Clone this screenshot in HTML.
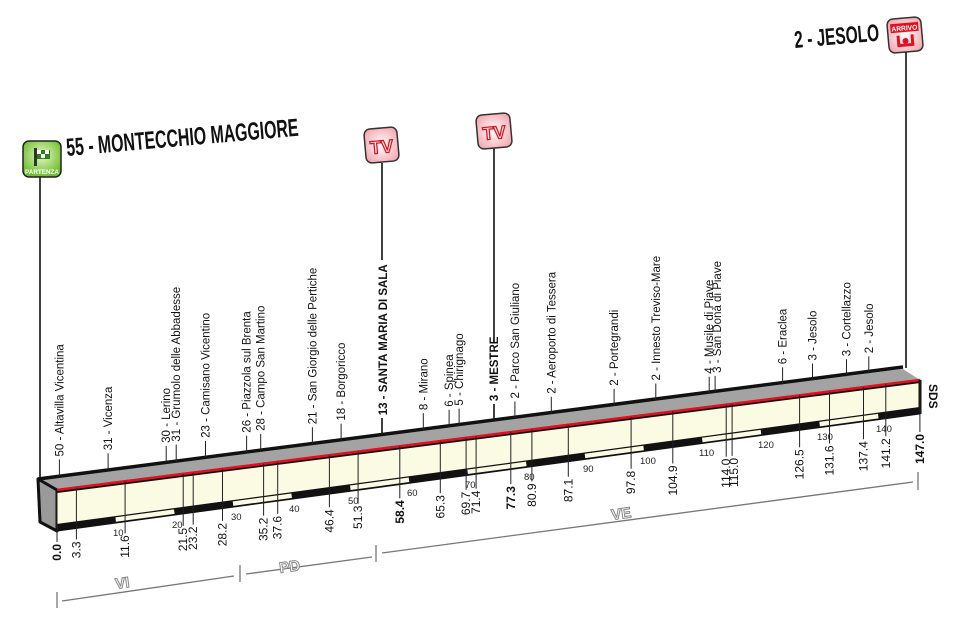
<!DOCTYPE html>
<html><head><meta charset="utf-8"><style>
html,body{margin:0;padding:0;background:#fff;}
svg{display:block;}
.t{font-family:"Liberation Sans Narrow","Liberation Sans",sans-serif;font-size:11.5px;fill:#111;}
.n{font-family:"Liberation Sans Narrow","Liberation Sans",sans-serif;font-size:12px;fill:#111;}
.k{font-family:"Liberation Sans Narrow","Liberation Sans",sans-serif;font-size:9.5px;fill:#222;}
.b{font-weight:bold;}
.reg{font-family:"Liberation Sans",sans-serif;font-size:15px;font-weight:bold;fill:#fff;stroke:#888;stroke-width:1;}
</style></head><body>
<svg width="960" height="626" viewBox="0 0 960 626" xmlns="http://www.w3.org/2000/svg">
<defs>
<radialGradient id="pk" cx="50%" cy="50%" r="60%"><stop offset="0" stop-color="#fff"/><stop offset="1" stop-color="#f3a9b0"/></radialGradient>
<radialGradient id="gr" cx="50%" cy="40%" r="60%"><stop offset="0" stop-color="#e8f7c8"/><stop offset="1" stop-color="#6bbf2a"/></radialGradient>
</defs>

<g stroke="#111" stroke-width="1.6">
<line x1="40" y1="177" x2="40" y2="479"/>
<line x1="382" y1="163" x2="382" y2="260"/>
<line x1="382" y1="418" x2="382" y2="435"/>
<line x1="494" y1="148" x2="494" y2="343"/>
<line x1="494" y1="404" x2="494" y2="421"/>
<line x1="906" y1="52" x2="906" y2="368"/>
</g>

<polygon points="40,479 903,369 920,380 57,490" fill="#a3a3a3"/>
<polyline points="38,479 903,367" fill="none" stroke="#111" stroke-width="3.5"/>
<polygon points="38,479 57,490 57,531 40,522" fill="#9a9a9a" stroke="#111" stroke-width="3" stroke-linejoin="round"/>
<polygon points="57,490 920,380 920,414 57,531" fill="#fbfbe4" stroke="#111" stroke-width="1"/>
<line x1="57" y1="527.5" x2="920" y2="410.5" stroke="#111" stroke-width="7"/>
<line x1="57" y1="527.5" x2="920" y2="410.5" stroke="#fbfbe4" stroke-width="4.5" stroke-dasharray="59.2 59.2" stroke-dashoffset="59.2"/>
<line x1="57" y1="491" x2="920" y2="381" stroke="#111" stroke-width="4"/>
<line x1="57" y1="490" x2="920" y2="380" stroke="#e0101e" stroke-width="2.6"/>
<line x1="920" y1="380" x2="920" y2="414" stroke="#111" stroke-width="3"/>

<g stroke="#222" stroke-width="1">
<line x1="57" y1="490" x2="57" y2="542"/>
<line x1="76.4" y1="487.5" x2="76.4" y2="539.5"/>
<line x1="125.1" y1="481.3" x2="125.1" y2="533.3"/>
<line x1="183.2" y1="473.9" x2="183.2" y2="525.9"/>
<line x1="193.2" y1="472.6" x2="193.2" y2="524.6"/>
<line x1="222.5" y1="468.9" x2="222.5" y2="520.9"/>
<line x1="263.6" y1="463.7" x2="263.6" y2="515.7"/>
<line x1="277.7" y1="461.9" x2="277.7" y2="513.9"/>
<line x1="329.4" y1="455.3" x2="329.4" y2="507.3"/>
<line x1="358.1" y1="451.6" x2="358.1" y2="503.6"/>
<line x1="399.8" y1="446.3" x2="399.8" y2="498.3"/>
<line x1="440.3" y1="441.1" x2="440.3" y2="493.1"/>
<line x1="466.1" y1="437.8" x2="466.1" y2="489.8"/>
<line x1="476.1" y1="436.6" x2="476.1" y2="488.6"/>
<line x1="510.8" y1="432.1" x2="510.8" y2="484.1"/>
<line x1="531.9" y1="429.5" x2="531.9" y2="481.5"/>
<line x1="568.3" y1="424.8" x2="568.3" y2="476.8"/>
<line x1="631.1" y1="416.8" x2="631.1" y2="468.8"/>
<line x1="672.8" y1="411.5" x2="672.8" y2="463.5"/>
<line x1="726.2" y1="404.7" x2="726.2" y2="456.7"/>
<line x1="732.1" y1="403.9" x2="732.1" y2="455.9"/>
<line x1="799.6" y1="395.3" x2="799.6" y2="447.3"/>
<line x1="829.5" y1="391.5" x2="829.5" y2="443.5"/>
<line x1="863.5" y1="387.2" x2="863.5" y2="439.2"/>
<line x1="885.8" y1="384.3" x2="885.8" y2="436.3"/>
<line x1="919.9" y1="380" x2="919.9" y2="432"/>
</g>

<g class="n" text-anchor="end">
<text class="b" transform="translate(61,544) rotate(-90)">0.0</text>
<text transform="translate(80.4,541.5) rotate(-90)">3.3</text>
<text transform="translate(129.1,535.3) rotate(-90)">11.6</text>
<text transform="translate(187.2,527.9) rotate(-90)">21.5</text>
<text transform="translate(197.2,526.6) rotate(-90)">23.2</text>
<text transform="translate(226.5,522.9) rotate(-90)">28.2</text>
<text transform="translate(267.6,517.7) rotate(-90)">35.2</text>
<text transform="translate(281.7,515.9) rotate(-90)">37.6</text>
<text transform="translate(333.4,509.3) rotate(-90)">46.4</text>
<text transform="translate(362.1,505.6) rotate(-90)">51.3</text>
<text class="b" transform="translate(403.8,500.3) rotate(-90)">58.4</text>
<text transform="translate(444.3,495.1) rotate(-90)">65.3</text>
<text transform="translate(470.1,491.8) rotate(-90)">69.7</text>
<text transform="translate(480.1,490.6) rotate(-90)">71.4</text>
<text class="b" transform="translate(514.8,486.1) rotate(-90)">77.3</text>
<text transform="translate(535.9,483.5) rotate(-90)">80.9</text>
<text transform="translate(572.3,478.8) rotate(-90)">87.1</text>
<text transform="translate(635.1,470.8) rotate(-90)">97.8</text>
<text transform="translate(676.8,465.5) rotate(-90)">104.9</text>
<text transform="translate(730.2,458.7) rotate(-90)">114.0</text>
<text transform="translate(738.1,457.9) rotate(-90)">115.0</text>
<text transform="translate(803.6,449.3) rotate(-90)">126.5</text>
<text transform="translate(833.5,445.5) rotate(-90)">131.6</text>
<text transform="translate(867.5,441.2) rotate(-90)">137.4</text>
<text transform="translate(889.8,438.3) rotate(-90)">141.2</text>
<text class="b" transform="translate(924,434) rotate(-90)">147.0</text>
</g>

<g class="k">
<text x="113" y="536">10</text>
<text x="172" y="528">20</text>
<text x="231" y="520">30</text>
<text x="289" y="512">40</text>
<text x="348" y="504">50</text>
<text x="407" y="496">60</text>
<text x="465" y="488">70</text>
<text x="524" y="480">80</text>
<text x="583" y="472">90</text>
<text x="640" y="464">100</text>
<text x="699" y="456">110</text>
<text x="758" y="448">120</text>
<text x="817" y="440">130</text>
<text x="876" y="432">140</text>
</g>

<g stroke="#222" stroke-width="1">
<line x1="59.4" y1="476.5" x2="59.4" y2="459.5"/>
<line x1="108.1" y1="470.3" x2="108.1" y2="453.3"/>
<line x1="166.2" y1="462.9" x2="166.2" y2="445.9"/>
<line x1="176.2" y1="461.6" x2="176.2" y2="444.6"/>
<line x1="205.5" y1="457.9" x2="205.5" y2="440.9"/>
<line x1="246.6" y1="452.7" x2="246.6" y2="435.7"/>
<line x1="260.7" y1="450.9" x2="260.7" y2="433.9"/>
<line x1="312.4" y1="444.3" x2="312.4" y2="427.3"/>
<line x1="341.1" y1="440.6" x2="341.1" y2="423.6"/>
<line x1="423.3" y1="430.1" x2="423.3" y2="413.1"/>
<line x1="449.1" y1="426.8" x2="449.1" y2="409.8"/>
<line x1="459.1" y1="425.6" x2="459.1" y2="408.6"/>
<line x1="514.9" y1="418.5" x2="514.9" y2="401.5"/>
<line x1="551.3" y1="413.8" x2="551.3" y2="396.8"/>
<line x1="614.1" y1="405.8" x2="614.1" y2="388.8"/>
<line x1="655.8" y1="400.5" x2="655.8" y2="383.5"/>
<line x1="709.2" y1="393.7" x2="709.2" y2="376.7"/>
<line x1="715.1" y1="392.9" x2="715.1" y2="375.9"/>
<line x1="782.6" y1="384.3" x2="782.6" y2="367.3"/>
<line x1="812.5" y1="380.5" x2="812.5" y2="363.5"/>
<line x1="846.5" y1="376.2" x2="846.5" y2="359.2"/>
<line x1="868.8" y1="373.3" x2="868.8" y2="356.3"/>
</g>

<g class="t">
<text transform="translate(63.4,456.5) rotate(-90)">50 - Altavilla Vicentina</text>
<text transform="translate(112.1,450.3) rotate(-90)">31 - Vicenza</text>
<text transform="translate(170.2,442.9) rotate(-90)">30 - Lerino</text>
<text transform="translate(180.2,441.6) rotate(-90)">31 - Grumolo delle Abbadesse</text>
<text transform="translate(209.5,437.9) rotate(-90)">23 - Camisano Vicentino</text>
<text transform="translate(250.6,432.7) rotate(-90)">26 - Piazzola sul Brenta</text>
<text transform="translate(264.7,430.9) rotate(-90)">28 - Campo San Martino</text>
<text transform="translate(316.4,424.3) rotate(-90)">21 - San Giorgio delle Pertiche</text>
<text transform="translate(345.1,420.6) rotate(-90)">18 - Borgoricco</text>
<text class="b" transform="translate(386.8,415.3) rotate(-90)">13 - SANTA MARIA DI SALA</text>
<text transform="translate(427.3,410.1) rotate(-90)">8 - Mirano</text>
<text transform="translate(453.1,406.8) rotate(-90)">6 - Spinea</text>
<text transform="translate(463.1,405.6) rotate(-90)">5 - Chirignago</text>
<text class="b" transform="translate(497.8,401.1) rotate(-90)">3 - MESTRE</text>
<text transform="translate(518.9,398.5) rotate(-90)">2 - Parco San Giuliano</text>
<text transform="translate(555.3,393.8) rotate(-90)">2 - Aeroporto di Tessera</text>
<text transform="translate(618.1,385.8) rotate(-90)">2 - Portegrandi</text>
<text transform="translate(659.8,380.5) rotate(-90)">2 - Innesto Treviso-Mare</text>
<text transform="translate(713.2,373.7) rotate(-90)">4 - Musile di Piave</text>
<text transform="translate(721.1,372.9) rotate(-90)">3 - San Donà di Piave</text>
<text transform="translate(786.6,364.3) rotate(-90)">6 - Eraclea</text>
<text transform="translate(816.5,360.5) rotate(-90)">3 - Jesolo</text>
<text transform="translate(850.5,356.2) rotate(-90)">3 - Cortellazzo</text>
<text transform="translate(872.8,353.3) rotate(-90)">2 - Jesolo</text>
</g>

<text transform="translate(929,384) rotate(90)" font-family="Liberation Sans,sans-serif" font-size="12" font-weight="bold" fill="#111">SDS</text>

<g stroke="#777" stroke-width="1.3" fill="none">
<line x1="57" y1="592" x2="57" y2="608"/>
<line x1="62" y1="601" x2="234" y2="576"/>
<line x1="240" y1="565" x2="240" y2="582"/>
<line x1="246" y1="574" x2="372" y2="557"/>
<line x1="376" y1="545" x2="376" y2="562"/>
<line x1="382" y1="553" x2="913" y2="482"/>
<line x1="918" y1="472" x2="918" y2="490"/>
</g>
<text class="reg" transform="translate(116,589) rotate(-8)">VI</text>
<text class="reg" transform="translate(280,573) rotate(-8)">PD</text>
<text class="reg" transform="translate(612,520) rotate(-8)">VE</text>

<text transform="translate(67,156) rotate(-5)" font-family="Liberation Sans Narrow,Liberation Sans,sans-serif" font-size="25" font-weight="bold" fill="#111" textLength="233" lengthAdjust="spacingAndGlyphs">55 - MONTECCHIO MAGGIORE</text>
<text transform="translate(795,48) rotate(-5)" font-family="Liberation Sans Narrow,Liberation Sans,sans-serif" font-size="24" font-weight="bold" fill="#111" textLength="85" lengthAdjust="spacingAndGlyphs">2 - JESOLO</text>

<rect x="23" y="141" width="38" height="36" rx="6" fill="url(#gr)" stroke="#222" stroke-width="1.5"/>
<rect x="34" y="148" width="3" height="18" fill="#333"/>
<rect x="37" y="150" width="13" height="9" fill="#2e7d1e"/>
<rect x="37" y="150" width="4" height="4" fill="#fff"/><rect x="45" y="150" width="4" height="4" fill="#fff"/><rect x="41" y="154" width="4" height="4" fill="#fff"/>
<text x="42" y="174" font-family="Liberation Sans,sans-serif" font-size="6" font-weight="bold" fill="#fff" text-anchor="middle" textLength="34" lengthAdjust="spacingAndGlyphs">PARTENZA</text>

<g transform="rotate(-5 382 145)">
<rect x="365" y="128" width="33" height="34" rx="6" fill="url(#pk)" stroke="#333" stroke-width="1.5"/>
<text x="381.5" y="153" font-family="Liberation Sans,sans-serif" font-size="18" font-weight="bold" fill="#fff" stroke="#e0101e" stroke-width="1.3" text-anchor="middle">TV</text>
</g>
<g transform="rotate(-5 494 131)">
<rect x="477" y="114" width="34" height="34" rx="6" fill="url(#pk)" stroke="#333" stroke-width="1.5"/>
<text x="494" y="139" font-family="Liberation Sans,sans-serif" font-size="18" font-weight="bold" fill="#fff" stroke="#e0101e" stroke-width="1.3" text-anchor="middle">TV</text>
</g>

<g transform="rotate(-5 905 35)">
<rect x="888" y="18" width="34" height="34" rx="6" fill="url(#pk)" stroke="#333" stroke-width="1.5"/>
<rect x="891" y="23" width="28" height="9" fill="#e0101e"/>
<text x="905" y="30.5" font-family="Liberation Sans,sans-serif" font-size="7" font-weight="bold" fill="#fff" text-anchor="middle" textLength="26" lengthAdjust="spacingAndGlyphs">ARRIVO</text>
<path d="M898 35 v10 h14 v-10" fill="none" stroke="#e0101e" stroke-width="3"/>
<circle cx="905" cy="41" r="3" fill="#e0101e"/>
</g>
</svg>
</body></html>
